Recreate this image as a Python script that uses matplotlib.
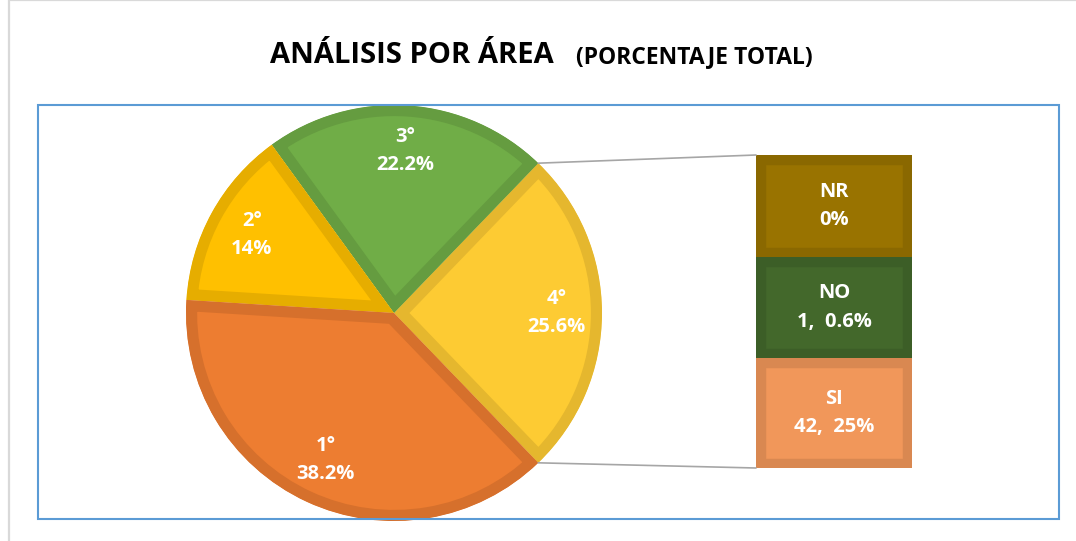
import matplotlib
matplotlib.use("Agg")
import numpy as np
import matplotlib.pyplot as plt
from matplotlib.patches import Rectangle, ConnectionPatch

plt.rcParams['font.family'] = ['Open Sans', 'DejaVu Sans']

# pie data
pie_labels = ['1°', '2°', '3°', '4°']
pie_values = [38.2, 14, 22.2, 25.6]
pie_colors = ['#ED7D31', '#FFC000', '#70AD47', '#FDCB33']
pie_edges = ['#D6702C', '#E6AD00', '#659C40', '#E5B72E']

# bar of pie (bottom to top)
bar_labels = ['SI', 'NO', 'NR']
bar_texts = ['42,  25%', '1,  0.6%', '0%']
bar_sizes = [110, 101, 102]
bar_colors = ['#F1975A', '#43682B', '#997300']
bar_edges = ['#D98851', '#3C5E27', '#8A6800']

W, H = 1076, 541
fig = plt.figure(figsize=(W / 100, H / 100), dpi=100)

def fx(px):
    return px / W

def fy(py):
    return 1 - py / H

# outer chart frame and plot area border
fig.patches.append(Rectangle((fx(9), fy(560)), fx(1100), 560 / H, transform=fig.transFigure,
                             fill=False, edgecolor='#D9D9D9', lw=1.6))
fig.patches.append(Rectangle((fx(38), fy(519)), fx(1059 - 38), (519 - 105) / H, transform=fig.transFigure,
                             fill=False, edgecolor='#5B9BD5', lw=1.5))

# title
fig.text(fx(270), fy(63), 'ANÁLISIS POR ÁREA', fontsize=21, fontweight='bold', ha='left', va='baseline')
fig.text(fx(694), fy(63), '(PORCENTAJE TOTAL)', fontsize=16.5, fontweight='bold', ha='center', va='baseline')

# pie, drawn counterclockwise starting with the 4° slice on the right
cx, cy, r = 394, 313, 208
ax = fig.add_axes([fx(cx - r), fy(cy + r), fx(2 * r), 2 * r / H])
order = [3, 2, 1, 0]
vals = [pie_values[i] for i in order]
start = -pie_values[3] / 100 * 360 / 2
wedges, texts = ax.pie(vals, labels=[f'{pie_labels[i]}\n{pie_values[i]:g}%' for i in order],
                       colors=[pie_colors[i] for i in order], startangle=start, counterclock=True,
                       labeldistance=0.78,
                       textprops=dict(color='white', fontweight='bold', fontsize=14.5,
                                      ha='center', va='center', linespacing=1.55))
for w, i in zip(wedges, order):
    w.set_edgecolor(pie_edges[i])
    w.set_linewidth(16)
    w.set_clip_on(True)
    w.set_clip_path(w)
ax.set_xlim(-1, 1)
ax.set_ylim(-1, 1)
ax.set_aspect('equal')
ax.axis('off')

# stacked bar
bx = fig.add_axes([fx(756), fy(468), fx(912 - 756), (468 - 155) / H])
bottom = 0
for lab, txt, size, col, ec in zip(bar_labels, bar_texts, bar_sizes, bar_colors, bar_edges):
    b = bx.bar(0, size, bottom=bottom, width=1, color=col, edgecolor=ec, linewidth=14)[0]
    b.set_clip_path(b)
    bx.text(0, bottom + size / 2, f'{lab}\n{txt}', color='white', fontweight='bold', fontsize=14.5,
            ha='center', va='center', linespacing=1.55)
    bottom += size
bx.set_xlim(-0.5, 0.5)
bx.set_ylim(0, bottom)
bx.axis('off')

# connector lines from the 4° slice to the bar
w4 = wedges[0]
for ang, yb in [(w4.theta2, bottom), (w4.theta1, 0)]:
    p = (np.cos(np.radians(ang)), np.sin(np.radians(ang)))
    con = ConnectionPatch(xyA=p, coordsA=ax.transData, xyB=(-0.5, yb), coordsB=bx.transData,
                          color='#A6A6A6', lw=1.2)
    fig.add_artist(con)

fig.savefig('out.png', dpi=100)
